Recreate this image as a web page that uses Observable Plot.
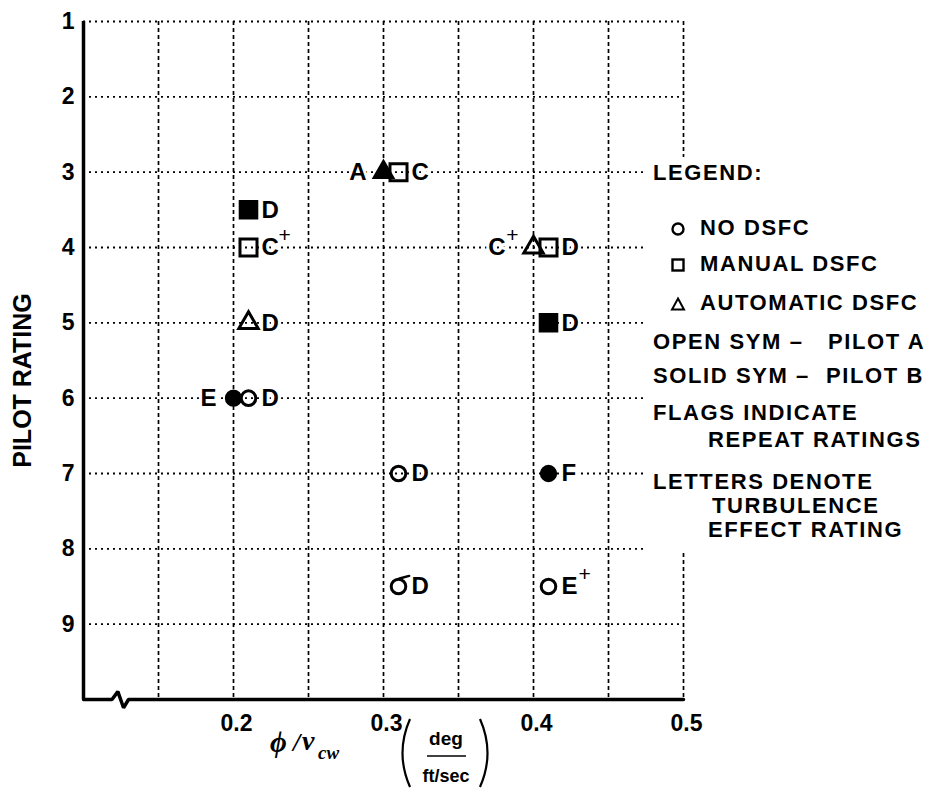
<!DOCTYPE html>
<html>
<head>
<meta charset="utf-8">
<script src="https://cdn.jsdelivr.net/npm/d3@7"></script>
<script src="https://cdn.jsdelivr.net/npm/@observablehq/plot@0.6"></script>
<style>
  body { margin: 0; background: #fff; }
  #wrap { position: relative; width: 930px; height: 790px; overflow: hidden;
          font-family: "Liberation Sans", Arial, Helvetica, sans-serif; font-weight: bold; color: #000; }
  #chart { position: absolute; left: 0; top: 0; }
  #legend { position: absolute; left: 643px; top: 157px; width: 287px; height: 394px; background: #fff; }
  .lg { position: absolute; font-size: 22px; letter-spacing: 1.6px; line-height: 1; white-space: pre; transform: translateY(-50%); }
  .lg svg { vertical-align: middle; }
  #xlab { position: absolute; left: 0; top: 0; pointer-events: none; }
</style>
</head>
<body>
<div id="wrap">
  <div id="chart"></div>
  <div id="legend"></div>
  <svg id="xlab" width="930" height="790"></svg>
</div>
<script>
// ---------- data ----------
const xTicks = [0.2, 0.3, 0.4, 0.5];
const xGrid  = [0.15, 0.2, 0.25, 0.3, 0.35, 0.4, 0.45, 0.5];
const yTicks = [1, 2, 3, 4, 5, 6, 7, 8, 9];
const xDomain = [0.1, 0.5];
const yDomain = [1, 10];

const ptX      = [0.30, 0.31, 0.21, 0.21, 0.21, 0.20, 0.21, 0.40, 0.41, 0.41, 0.31, 0.41, 0.31, 0.41];
const ptY      = [3,    3,    3.5,  4,    5,    6,    6,    4,    4,    5,    7,    7,    8.5,  8.5];
const ptShape  = ["triangle","square","square","square","triangle","circle","circle","triangle","square","square","circle","circle","circle","circle"];
const ptPilot  = ["B","A","B","A","A","B","A","A","A","B","A","B","A","A"];
const ptLetter = ["A","C","D","C","D","E","D","C","D","D","D","F","D","E"];
const ptSide   = ["left","right","right","right","right","left","right","left","right","right","right","right","right","right"];
const ptPlus   = [false,false,false,true,false,false,false,true,false,false,false,false,false,true];
const ptFlag   = [false,false,false,false,false,false,false,false,false,false,false,false,true,false];

// bottom axis with break symbol
const breakX = [0.1, 0.119, 0.1229, 0.1267, 0.1300, 0.5];
const breakY = [10, 10, 9.895, 10.11, 10, 10];

const legendRows = [
  {text: "LEGEND:", x: 653, y: 173},
  {text: "NO DSFC", x: 700, y: 228, sym: "circle"},
  {text: "MANUAL DSFC", x: 700, y: 264, sym: "square"},
  {text: "AUTOMATIC DSFC", x: 700, y: 303, sym: "triangle"},
  {text: "OPEN SYM \u2013", x: 653, y: 342},
  {text: "PILOT A", x: 828, y: 342},
  {text: "SOLID SYM \u2013", x: 653, y: 376},
  {text: "PILOT B", x: 826, y: 376},
  {text: "FLAGS INDICATE", x: 653, y: 413},
  {text: "REPEAT RATINGS", x: 708, y: 440},
  {text: "LETTERS DENOTE", x: 653, y: 482},
  {text: "TURBULENCE", x: 712, y: 506},
  {text: "EFFECT RATING", x: 708, y: 530}
];

// ---------- build ----------
const pts = ptX.map((x, i) => ({x, y: ptY[i], shape: ptShape[i], pilot: ptPilot[i],
  letter: ptLetter[i], side: ptSide[i], plus: ptPlus[i], flag: ptFlag[i]}));

const FONT = '"Liberation Sans", Arial, Helvetica, sans-serif';
const R = {circle: 7.3, square: 9.6, triangle: 7.2};

const dotMarks = [];
for (const shape of ["circle", "square", "triangle"]) {
  for (const solid of [false, true]) {
    dotMarks.push(Plot.dot(pts, {
      filter: d => d.shape === shape && (d.pilot === "B") === solid,
      x: "x", y: "y", symbol: shape, r: R[shape] + (solid ? 0.6 : 0),
      fill: solid ? "black" : "none", stroke: "black", strokeWidth: solid ? 1.5 : 3
    }));
  }
}

const lbl = {fontFamily: FONT, fontSize: 24, fontWeight: "bold", fill: "black", stroke: "white", strokeWidth: 6};
const sup = {fontFamily: FONT, fontSize: 21, fontWeight: "normal", fill: "black", stroke: "white", strokeWidth: 4};

const flagShape = {draw(context, l) { context.moveTo(0, 0); context.lineTo(0, -l); }};

const chart = Plot.plot({
  width: 930, height: 790,
  marginTop: 21, marginBottom: 91, marginLeft: 83, marginRight: 247,
  style: {fontFamily: FONT, background: "white", color: "black"},
  x: {domain: xDomain},
  y: {domain: yDomain, reverse: true},
  marks: [
    Plot.gridY({ticks: yTicks, stroke: "black", strokeOpacity: 1, strokeWidth: 1.8, strokeDasharray: "2,4"}),
    Plot.gridX({ticks: xGrid, stroke: "black", strokeOpacity: 1, strokeWidth: 1.7, strokeDasharray: "4,3"}),
    Plot.ruleX([xDomain[0]], {stroke: "black", strokeWidth: 3.5}),
    Plot.line(breakX.map((x, i) => ({x, y: breakY[i]})), {x: "x", y: "y", stroke: "black", strokeWidth: 3.5, strokeLinejoin: "miter", curve: "linear"}),
    Plot.axisY({ticks: yTicks, tickSize: 0, tickPadding: 9, label: null, fontSize: 23, fontWeight: "bold"}),
    Plot.axisX({ticks: xTicks, tickSize: 0, tickPadding: 15, label: null, fontSize: 23, fontWeight: "bold", tickFormat: d3.format(".1f"), dx: 3}),
    Plot.text(["PILOT RATING"], {text: d => d, frameAnchor: "left", textAnchor: "middle", rotate: -90, dx: -61, dy: 20, fontSize: 25, fontWeight: "bold", fontFamily: FONT}),
    // labels
    Plot.text(pts, {filter: d => d.side === "right", x: "x", y: "y", text: "letter", textAnchor: "start", dx: 13, ...lbl}),
    Plot.text(pts, {filter: d => d.side === "left" && !d.plus, x: "x", y: "y", text: "letter", textAnchor: "end", dx: -17, ...lbl}),
    Plot.text(pts, {filter: d => d.side === "left" && d.plus, x: "x", y: "y", text: "letter", textAnchor: "end", dx: -28, ...lbl}),
    Plot.text(pts, {filter: d => d.side === "right" && d.plus, x: "x", y: "y", text: () => "+", textAnchor: "start", dx: 30, dy: -12, ...sup}),
    Plot.text(pts, {filter: d => d.side === "left" && d.plus, x: "x", y: "y", text: () => "+", textAnchor: "end", dx: -15, dy: -12, ...sup}),
    ...dotMarks,
    Plot.vector(pts, {filter: d => d.flag, x: "x", y: "y", dy: -8, dx: 1, rotate: 75, length: 10, anchor: "start", shape: flagShape, stroke: "black", strokeWidth: 2.5})
  ]
});
document.getElementById("chart").append(chart);

// ---------- legend ----------
const symSvg = {
  circle: '<svg width="16" height="16" viewBox="0 0 16 16"><circle cx="8" cy="8" r="5.5" fill="none" stroke="black" stroke-width="2.4"/></svg>',
  square: '<svg width="16" height="16" viewBox="0 0 16 16"><rect x="2.5" y="2.5" width="11" height="11" fill="none" stroke="black" stroke-width="2.4"/></svg>',
  triangle: '<svg width="16" height="16" viewBox="0 0 16 16"><path d="M8 2.5 L14 13.5 L2 13.5 Z" fill="none" stroke="black" stroke-width="2"/></svg>'
};
const leg = document.getElementById("legend");
for (const row of legendRows) {
  if (row.sym) {
    const s = document.createElement("div");
    s.className = "lg";
    s.style.left = (670 - 643) + "px";
    s.style.top = (row.y - 157) + "px";
    s.innerHTML = symSvg[row.sym];
    leg.append(s);
  }
  const el = document.createElement("div");
  el.className = "lg";
  el.style.left = (row.x - 643) + "px";
  el.style.top = (row.y - 157) + "px";
  el.textContent = row.text;
  leg.append(el);
}

// ---------- x-axis title ----------
const xl = document.getElementById("xlab");
xl.innerHTML = `
  <text x="270" y="752" font-family="Liberation Serif" font-style="italic" font-size="29">\u03D5</text>
  <text x="293" y="751" font-family="Liberation Serif" font-style="italic" font-size="26">/</text>
  <text x="302" y="750" font-family="Liberation Serif" font-style="italic" font-size="28">v</text>
  <text x="318" y="759" font-family="Liberation Serif" font-style="italic" font-weight="bold" font-size="19">cw</text>
  <path d="M410 719 Q395 753 410 787" fill="none" stroke="black" stroke-width="2.2"/>
  <path d="M480 719 Q495 753 480 787" fill="none" stroke="black" stroke-width="2.2"/>
  <text x="446" y="745" text-anchor="middle" font-family="Liberation Sans, Arial, sans-serif" font-weight="bold" font-size="19">deg</text>
  <line x1="427" x2="466" y1="756" y2="756" stroke="black" stroke-width="1.6"/>
  <text x="446" y="782" text-anchor="middle" font-family="Liberation Sans, Arial, sans-serif" font-weight="bold" font-size="18">ft/sec</text>
`;
</script>
</body>
</html>
